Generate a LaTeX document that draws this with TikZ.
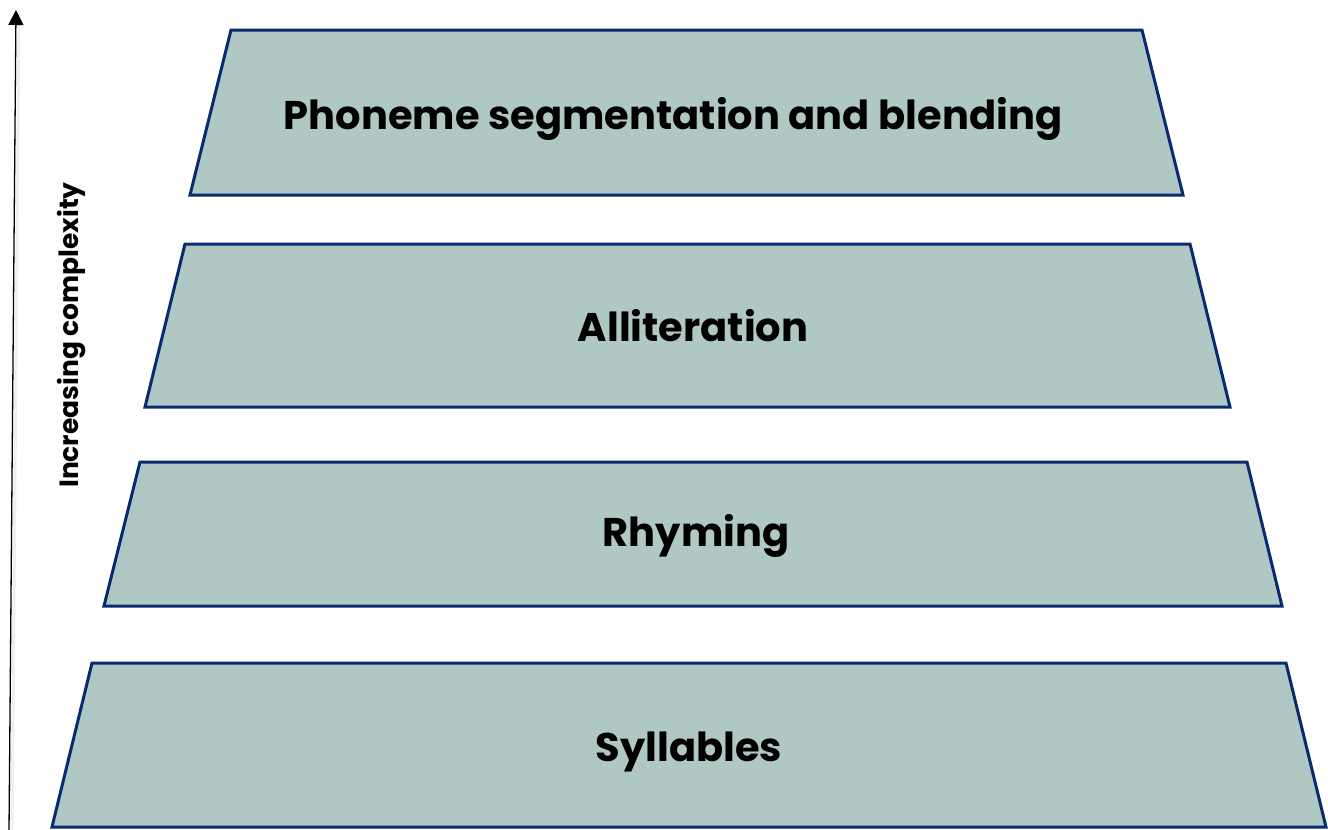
\documentclass[tikz,border=0pt]{standalone}
\usepackage{fontspec}
\setmainfont{Poppins}
\usetikzlibrary{arrows.meta}
\definecolor{tfill}{HTML}{B0C8C3}
\definecolor{tedge}{HTML}{0A2A6E}
\begin{document}
\begin{tikzpicture}[x=1pt,y=-1pt,
  layer/.style={fill=tfill,draw=tedge,line width=3pt,line join=miter},
  lbl/.style={font=\fontsize{40}{42}\selectfont\bfseries,text=black,inner sep=0},
  axislbl/.style={font=\fontsize{26.5}{28}\selectfont\bfseries,rotate=90,inner sep=0}]
\useasboundingbox (0,0) rectangle (1328,830);
% layers
\draw[layer] (231,30) -- (1142,30) -- (1183,195) -- (190,195) -- cycle;
\draw[layer] (185,244) -- (1190,244) -- (1230,407) -- (145,407) -- cycle;
\draw[layer] (140,462) -- (1247,462) -- (1282,606) -- (104,606) -- cycle;
\draw[layer] (92,663) -- (1286,663) -- (1326,827) -- (52,827) -- cycle;
\node[lbl] (t1) at (673,119) {Phoneme segmentation and blending};
\node[lbl] (t2) at (693,326) {Alliteration};
\node[lbl] (t3) at (696,536) {Rhyming};
\node[lbl] (t4) at (689,752) {Syllables};
% axis
\coordinate (a0) at (9,832);
\coordinate (a1) at (16,10);
\draw[line width=3pt,black!6] ([xshift=3pt,yshift=-2pt]a0) -- ([xshift=3pt,yshift=-2pt]a1);
\draw[line width=1.3pt,-{Triangle[width=15pt,length=15pt]}] (a0) -- (a1);
\node[axislbl] (ax) at (72,335) {Increasing complexity};
\end{tikzpicture}
\end{document}
